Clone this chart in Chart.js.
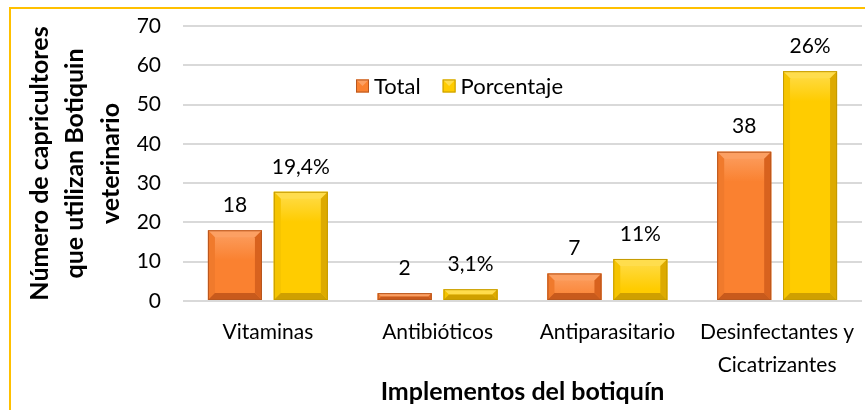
<!DOCTYPE html>
<html>
<head>
<meta charset="utf-8">
<script src="https://cdn.jsdelivr.net/npm/chart.js@4"></script>
<style>
    html, body { margin: 0; padding: 0; background: #fff; overflow: hidden; }
    #wrap { position: relative; width: 865px; height: 410px; }
    #frame {
        position: absolute; left: 9px; top: 7px; width: 900px; height: 450px;
        border: 2px solid #FFC000; pointer-events: none;
    }
</style>
</head>
<body>
<div id="wrap">
    <canvas id="chart" width="865" height="410"></canvas>
    <div id="frame"></div>
</div>
<script>
const categories = ['Vitaminas', 'Antibióticos', 'Antiparasitario', ['Desinfectantes y', 'Cicatrizantes']];
const totalValues = [18, 2, 7, 38];
const percentValues = [27.8, 3, 10.7, 58.5];
const totalLabels = ['18', '2', '7', '38'];
const percentLabels = ['19,4%', '3,1%', '11%', '26%'];
const yTicks = [0, 10, 20, 30, 40, 50, 60, 70];

const FONT = 'Lato, "Open Sans", sans-serif';

// bevel colours per dataset
const bevel = [
    { face: '#FA8130', top: '#FCA063', left: '#F07A2C', right: '#D8621E', bottom: '#C85A1C', line: '#B8561E' },
    { face: '#FFCC00', top: '#FFDD4D', left: '#F5C400', right: '#DDAA00', bottom: '#CFA000', line: '#C49A00' }
];

const bevelPlugin = {
    id: 'bevelBars',
    afterDatasetsDraw(chart) {
        const ctx = chart.ctx;
        chart.data.datasets.forEach((ds, di) => {
            const c = bevel[di];
            chart.getDatasetMeta(di).data.forEach(bar => {
                const { x, y, base, width } = bar.getProps(['x', 'y', 'base', 'width'], true);
                const l = x - width / 2, r = x + width / 2;
                const h = base - y;
                const b = Math.min(7, h / 2, width / 2);
                ctx.save();
                const g = ctx.createLinearGradient(0, y, 0, base);
                g.addColorStop(0, c.top);
                g.addColorStop(Math.min(1, 30 / Math.max(h, 1)), c.face);
                g.addColorStop(1, c.face);
                ctx.fillStyle = g;
                ctx.fillRect(l, y, width, h);
                // top
                ctx.fillStyle = c.top;
                ctx.beginPath();
                ctx.moveTo(l, y); ctx.lineTo(r, y); ctx.lineTo(r - b, y + b); ctx.lineTo(l + b, y + b);
                ctx.closePath(); ctx.fill();
                // left
                ctx.fillStyle = c.left;
                ctx.beginPath();
                ctx.moveTo(l, y); ctx.lineTo(l + b, y + b); ctx.lineTo(l + b, base - b); ctx.lineTo(l, base);
                ctx.closePath(); ctx.fill();
                // right
                ctx.fillStyle = c.right;
                ctx.beginPath();
                ctx.moveTo(r, y); ctx.lineTo(r - b, y + b); ctx.lineTo(r - b, base - b); ctx.lineTo(r, base);
                ctx.closePath(); ctx.fill();
                // bottom
                ctx.fillStyle = c.bottom;
                ctx.beginPath();
                ctx.moveTo(l, base); ctx.lineTo(l + b, base - b); ctx.lineTo(r - b, base - b); ctx.lineTo(r, base);
                ctx.closePath(); ctx.fill();
                ctx.strokeStyle = c.line;
                ctx.lineWidth = 1;
                ctx.strokeRect(l + 0.5, y + 0.5, width - 1, h - 1);
                ctx.restore();
            });
        });
    }
};

const valueLabelPlugin = {
    id: 'valueLabels',
    afterDatasetsDraw(chart) {
        const ctx = chart.ctx;
        const texts = [totalLabels, percentLabels];
        ctx.save();
        ctx.font = '21px ' + FONT;
        ctx.fillStyle = '#000';
        ctx.textAlign = 'center';
        ctx.textBaseline = 'middle';
        chart.data.datasets.forEach((ds, di) => {
            chart.getDatasetMeta(di).data.forEach((bar, i) => {
                ctx.fillText(texts[di][i], bar.x, bar.y - 25);
            });
        });
        ctx.restore();
    }
};

const legendPlugin = {
    id: 'innerLegend',
    afterDraw(chart) {
        const ctx = chart.ctx;
        ctx.save();
        ctx.font = '22px ' + FONT;
        ctx.textBaseline = 'middle';
        let x = 356;
        const yc = 86;
        chart.data.datasets.forEach((ds, di) => {
            const c = bevel[di];
            const s = 13;
            const t = yc - s / 2;
            ctx.fillStyle = c.face;
            ctx.fillRect(x, t, s, s);
            ctx.fillStyle = c.top;
            ctx.beginPath();
            ctx.moveTo(x, t); ctx.lineTo(x + s, t); ctx.lineTo(x + s / 2, t + s / 2);
            ctx.closePath(); ctx.fill();
            ctx.strokeStyle = c.line;
            ctx.strokeRect(x + 0.5, t + 0.5, s - 1, s - 1);
            ctx.fillStyle = '#000';
            ctx.fillText(ds.label, x + s + 5, yc + 1);
            x += s + 5 + ctx.measureText(ds.label).width + 22;
        });
        ctx.restore();
    }
};

new Chart(document.getElementById('chart'), {
    type: 'bar',
    data: {
        labels: categories,
        datasets: [
            { label: 'Total', data: totalValues, backgroundColor: bevel[0].face },
            { label: 'Porcentaje', data: percentValues, backgroundColor: bevel[1].face }
        ]
    },
    options: {
        responsive: false,
        animation: false,
        categoryPercentage: 0.776,
        barPercentage: 0.82,
        layout: { padding: { left: 22, right: 3, top: 26, bottom: 0 } },
        plugins: {
            legend: { display: false },
            tooltip: { enabled: false }
        },
        scales: {
            x: {
                grid: { display: false },
                border: { display: false },
                afterFit(scale) {
                    scale.height = 410 - 301;
                },
                ticks: {
                    color: '#000',
                    font: { family: FONT, size: 21, lineHeight: 1.6 },
                    padding: 6,
                    maxRotation: 0
                },
                title: {
                    display: true,
                    text: 'Implementos del botiquín',
                    color: '#000',
                    font: { family: FONT, size: 25, weight: 'bold' },
                    padding: { top: 0, bottom: 3 }
                }
            },
            y: {
                min: 0,
                max: 70,
                afterBuildTicks(scale) {
                    scale.ticks = yTicks.map(v => ({ value: v }));
                },
                afterFit(scale) {
                    scale.width = 183 - 22;
                    scale.paddingTop = 0;
                    scale.paddingBottom = 0;
                },
                grid: { color: '#D9D9D9', lineWidth: 2, drawTicks: false },
                border: { display: false },
                ticks: {
                    color: '#000',
                    font: { family: FONT, size: 21 },
                    padding: 22
                },
                title: {
                    display: true,
                    text: ['Número de capricultores', 'que utilizan Botiquin', 'veterinario'],
                    color: '#000',
                    font: { family: FONT, size: 25, weight: 'bold', lineHeight: 1.42 },
                    padding: 0
                }
            }
        }
    },
    plugins: [bevelPlugin, valueLabelPlugin, legendPlugin]
});
</script>
</body>
</html>
